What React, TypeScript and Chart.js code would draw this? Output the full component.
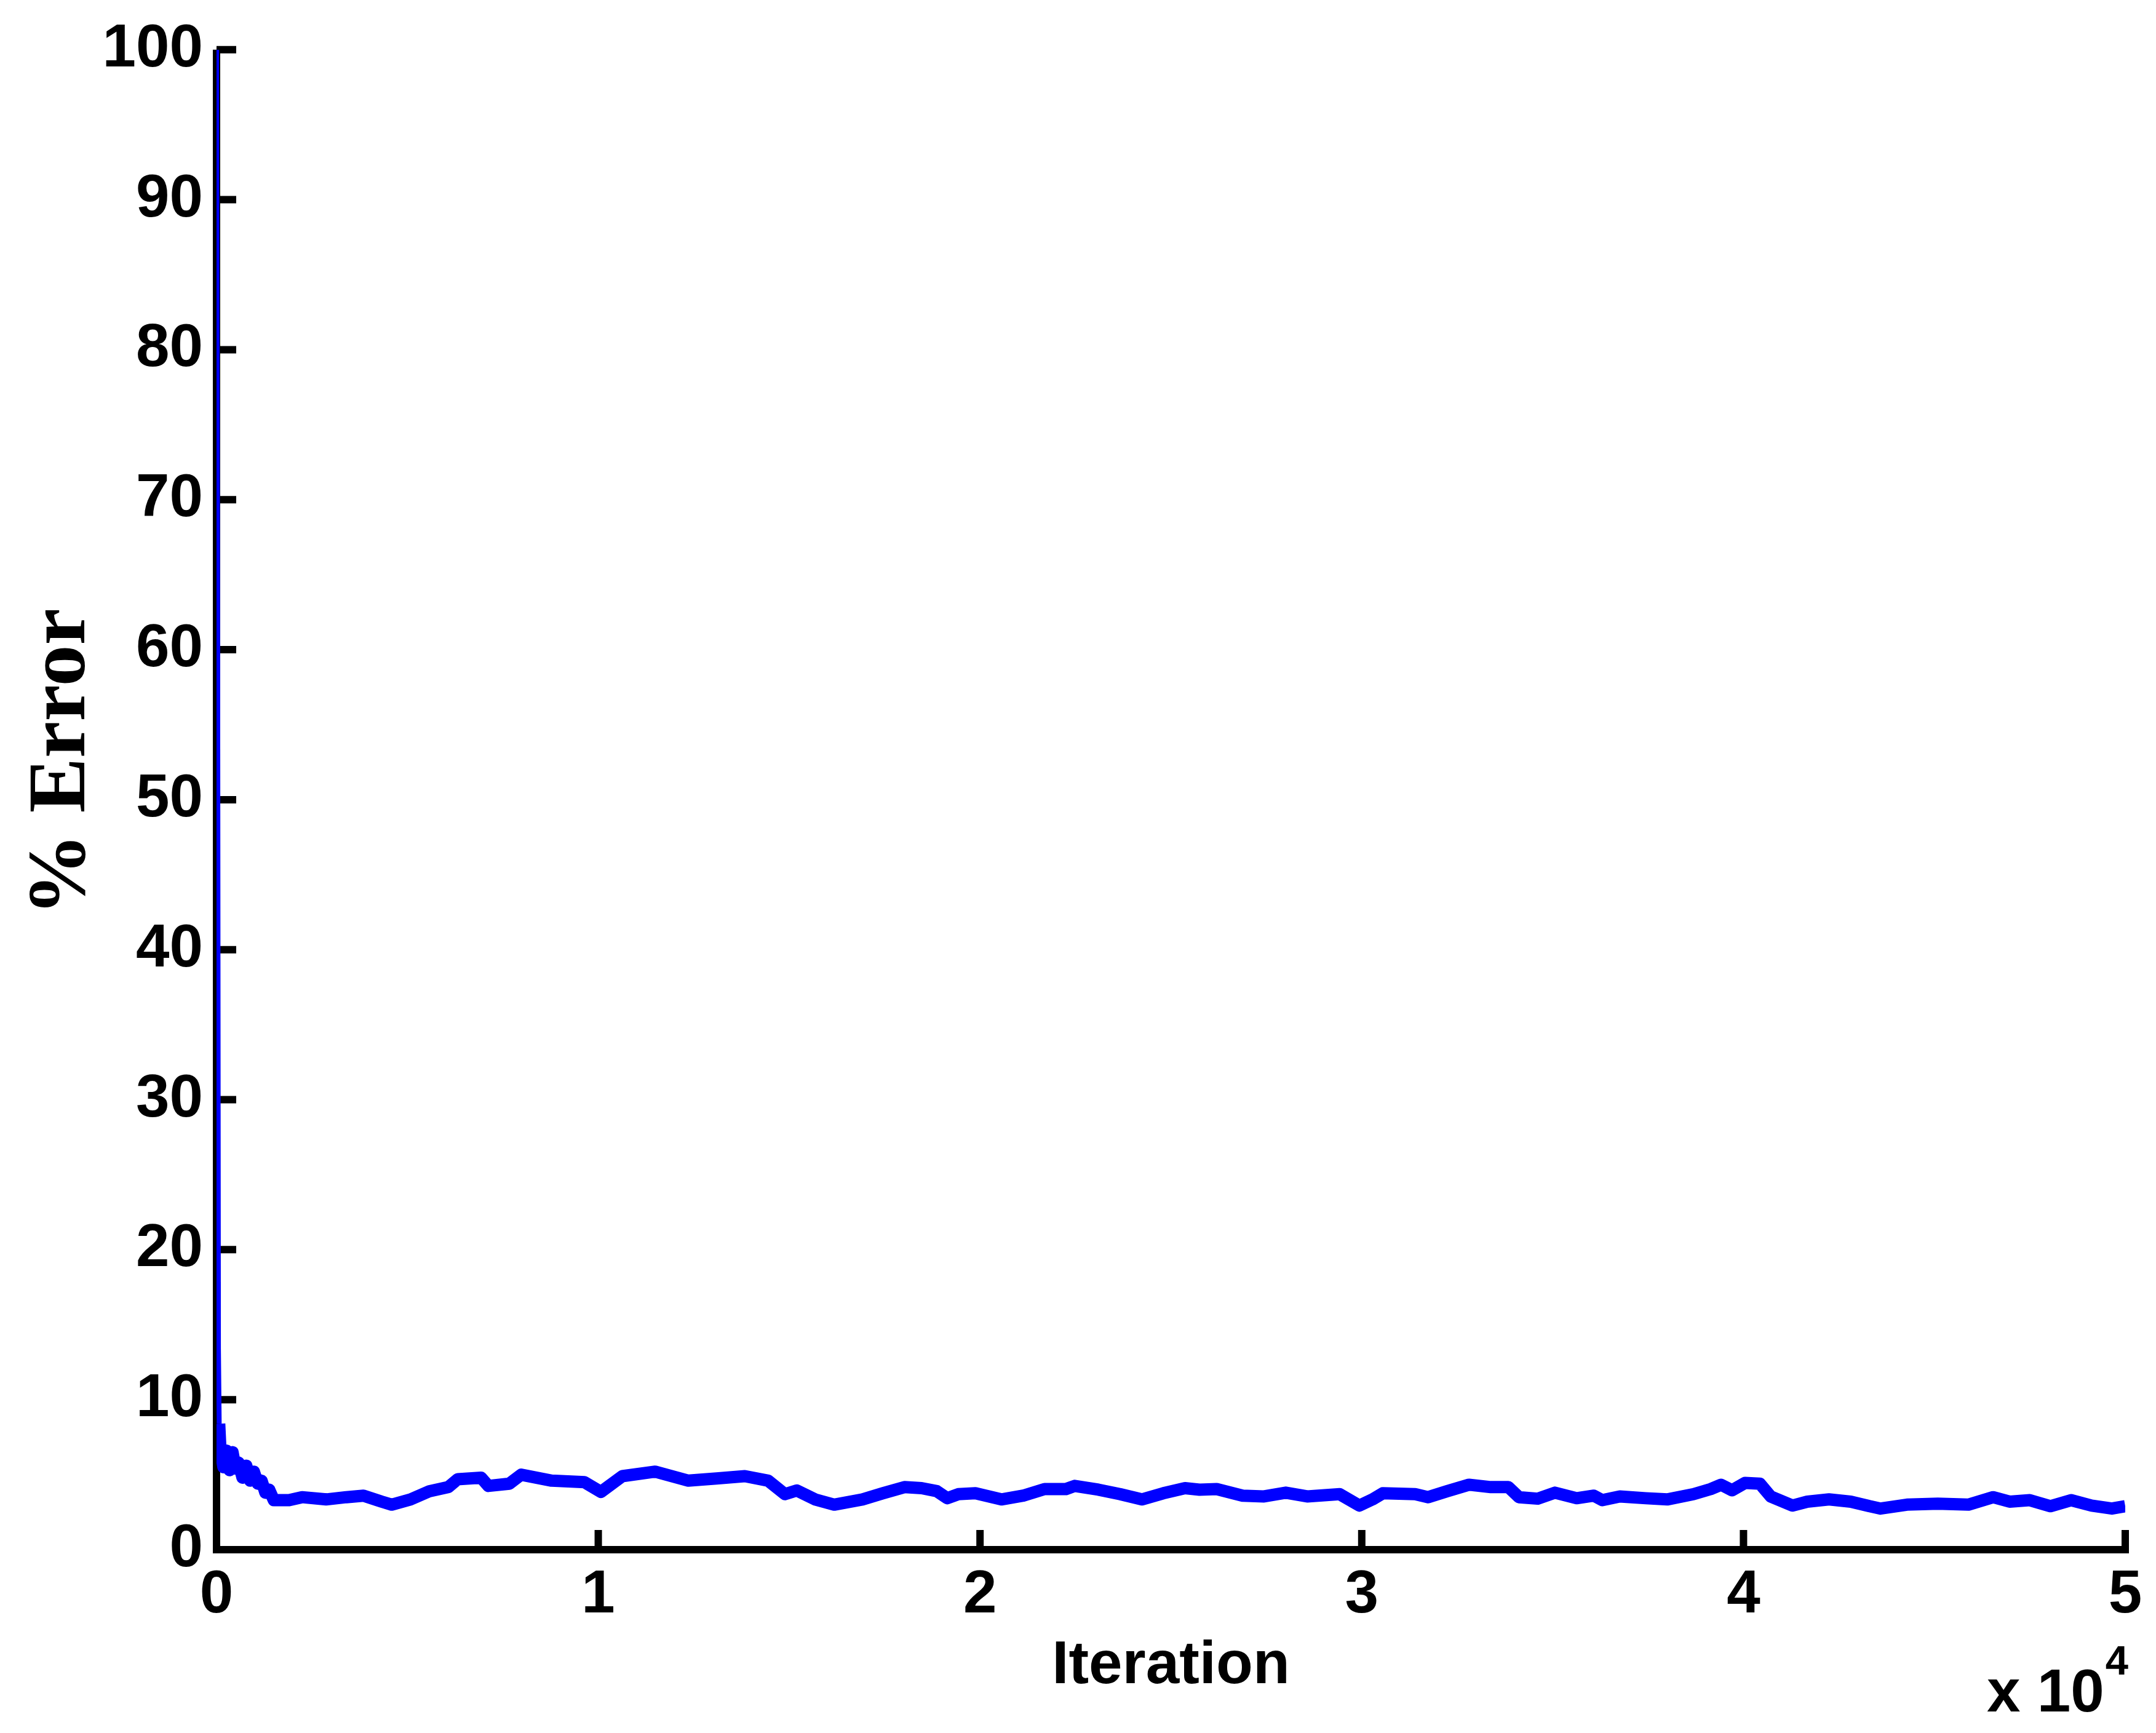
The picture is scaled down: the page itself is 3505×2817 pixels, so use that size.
import React, { useEffect, useRef } from 'react';
import { Chart, registerables } from 'chart.js';

Chart.register(...registerables);

// ---- data ----
const iterations = [
  1, 30, 50, 70, 100, 180, 260, 340, 420, 500, 580, 680, 780, 880, 980, 1080,
  1180, 1280, 1380, 1500, 1900,
  2240, 2870, 3400, 3850, 4330, 4590, 5080, 5580, 6070, 6320, 6930, 7120, 7670,
  7980, 8780, 9640, 10070, 10630, 11490, 12360, 13100, 13840, 14450, 14890,
  15200, 15680, 16180, 16920, 17450, 18020, 18470, 18870, 19140, 19430, 19880,
  20560, 21130, 21690, 22250, 22480, 23100, 23670, 24240, 24800, 25370, 25750,
  26200, 26880, 27440, 28010, 28570, 29420, 29940, 30280, 30550, 31400, 31740,
  32240, 32810, 33380, 33840, 34120, 34610, 35060, 35630, 36080, 36300, 36760,
  37440, 38000, 38690, 39140, 39410, 39700, 40040, 40430, 40710, 41280, 41670,
  42240, 42810, 43300, 43590, 44280, 45090, 45890, 46540, 46970, 47500, 48040,
  48580, 49120, 49650, 50000,
];
const errorPct = [
  100, 60, 13.4, 8.4, 6.8, 5.5, 6.6, 5.3, 6.5, 5.4, 5.8, 4.8, 5.6, 4.6, 5.2, 4.4,
  4.6, 3.8, 4.0, 3.3, 3.3,
  3.5, 3.35, 3.5, 3.6, 3.2, 3.0, 3.35, 3.9, 4.17, 4.7, 4.8, 4.25, 4.4,
  5.0, 4.6, 4.5, 3.85, 4.9, 5.2, 4.6, 4.75, 4.9, 4.6, 3.7,
  3.95, 3.35, 3.0, 3.35, 3.76, 4.17, 4.1, 3.9, 3.43, 3.7, 3.76,
  3.35, 3.6, 4.04, 4.04, 4.25, 4.0, 3.7, 3.35, 3.76, 4.1, 4.0,
  4.04, 3.6, 3.55, 3.8, 3.55, 3.7, 2.94, 3.35, 3.76, 3.7, 3.5,
  3.9, 4.33, 4.17, 4.17, 3.5, 3.4, 3.8, 3.43, 3.6, 3.3, 3.55,
  3.43, 3.35, 3.7, 4.04, 4.33, 3.96, 4.45, 4.4, 3.55, 2.94, 3.2,
  3.35, 3.2, 2.9, 2.74, 3.0, 3.07, 3.0, 3.5, 3.2, 3.3, 2.9,
  3.3, 2.94, 2.74, 2.9,
];
const xTickValues = [0, 10000, 20000, 30000, 40000, 50000];
const yTickValues = [0, 10, 20, 30, 40, 50, 60, 70, 80, 90, 100];
const xScaleFactor = 10000;
const xTitle = 'Iteration';
const yTitle = '% Error';
const exponentBase = 'x 10';
const exponentPower = '4';

// ---- layout ----
const W = 3505;
const H = 2817;
const SANS = '"Liberation Sans", Arial, Helvetica, sans-serif';
const SERIF = '"Liberation Serif", "Times New Roman", serif';
const tickFont = { family: SANS, size: 98, weight: 'bold' as const };

const matlabAxes = {
  id: 'matlabAxes',
  beforeDatasetsDraw(chart: any) {
    const { ctx, chartArea: a, scales } = chart;
    const xs = scales.x;
    const ys = scales.y;
    ctx.save();
    ctx.strokeStyle = '#000000';
    ctx.lineWidth = 12;
    ctx.lineCap = 'butt';
    ctx.beginPath();
    ctx.moveTo(a.left, a.top);
    ctx.lineTo(a.left, a.bottom + 6);
    ctx.moveTo(a.left - 6, a.bottom);
    ctx.lineTo(a.right + 6, a.bottom);
    ctx.stroke();
    ctx.beginPath();
    for (const v of xTickValues) {
      const px = xs.getPixelForValue(v);
      ctx.moveTo(px, a.bottom);
      ctx.lineTo(px, a.bottom - 32);
    }
    for (const v of yTickValues) {
      const py = ys.getPixelForValue(v);
      ctx.moveTo(a.left, py);
      ctx.lineTo(a.left + 32, py);
    }
    ctx.stroke();
    ctx.restore();
  },
  afterDraw(chart: any) {
    const { ctx, chartArea: a } = chart;
    ctx.save();
    ctx.fillStyle = '#000000';
    // y title
    ctx.save();
    ctx.translate(a.left - 215, (a.top + a.bottom) / 2 - 61);
    ctx.rotate(-Math.PI / 2);
    ctx.font = `bold 134px ${SERIF}`;
    ctx.textAlign = 'center';
    ctx.textBaseline = 'alphabetic';
    ctx.fillText(yTitle, 0, 0);
    ctx.restore();
    // x title
    ctx.font = `bold 98px ${SANS}`;
    ctx.textAlign = 'center';
    ctx.textBaseline = 'alphabetic';
    ctx.fillText(xTitle, (a.left + a.right) / 2, a.bottom + 217);
    // exponent
    ctx.textAlign = 'left';
    const ex = a.right - 225;
    ctx.fillText(exponentBase, ex, a.bottom + 263);
    const w = ctx.measureText(exponentBase).width;
    ctx.font = `bold 67px ${SANS}`;
    ctx.fillText(exponentPower, ex + w + 2, a.bottom + 203);
    ctx.restore();
  },
};

export default function App() {
  const ref = useRef<HTMLCanvasElement | null>(null);

  useEffect(() => {
    if (!ref.current) return;
    const points = iterations.map((x, i) => ({ x, y: errorPct[i] }));
    const chart = new Chart(ref.current, {
      type: 'line',
      data: {
        datasets: [
          {
            data: points,
            borderColor: '#0000ff',
            backgroundColor: '#0000ff',
            borderWidth: 20,
            segment: {
              borderWidth: (c: any) => (c.p0.parsed.y > 9 ? 8 : 20),
            },
            pointRadius: 0,
            tension: 0,
            fill: false,
            borderJoinStyle: 'round',
            borderCapStyle: 'butt',
          } as any,
        ],
      },
      options: {
        responsive: false,
        animation: false,
        devicePixelRatio: 1,
        layout: { padding: { left: 0, top: 71, right: 50, bottom: 0 } },
        plugins: {
          legend: { display: false },
          tooltip: { enabled: false },
        },
        scales: {
          x: {
            type: 'linear',
            min: 0,
            max: 50000,
            afterFit: (s: any) => {
              s.height = 298;
            },
            afterBuildTicks: (s: any) => {
              s.ticks = xTickValues.map((v) => ({ value: v }));
            },
            ticks: {
              callback: (v: any) => String(Number(v) / xScaleFactor),
              font: tickFont,
              color: '#000000',
              padding: 16,
              maxRotation: 0,
              autoSkip: false,
            },
            grid: { display: false, drawTicks: false },
            border: { display: false },
          },
          y: {
            type: 'linear',
            min: 0,
            max: 100,
            afterFit: (s: any) => {
              s.width = 352;
            },
            afterBuildTicks: (s: any) => {
              s.ticks = yTickValues.map((v) => ({ value: v }));
            },
            ticks: {
              font: tickFont,
              color: '#000000',
              padding: 22,
              autoSkip: false,
            },
            grid: { display: false, drawTicks: false },
            border: { display: false },
          },
        },
      } as any,
      plugins: [matlabAxes],
    });
    return () => chart.destroy();
  }, []);

  return (
    <div style={{ position: 'absolute', left: 0, top: 0, width: W, height: H, background: '#ffffff' }}>
      <canvas ref={ref} width={W} height={H} style={{ display: 'block', width: W, height: H }} />
    </div>
  );
}
